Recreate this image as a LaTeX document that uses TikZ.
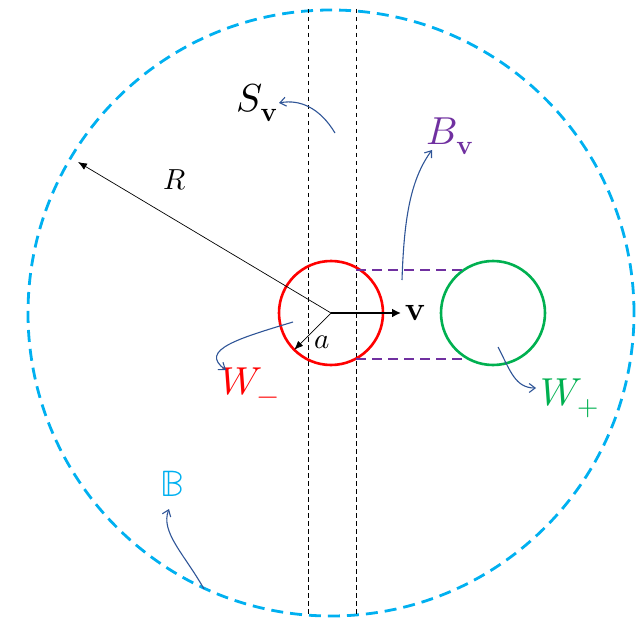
\documentclass[tikz,border=0pt]{standalone}
\usepackage{unicode-math}
\setmathfont{Latin Modern Math}
\usetikzlibrary{arrows.meta}
\definecolor{ballcyan}{RGB}{0,176,240}
\definecolor{wred}{RGB}{255,0,0}
\definecolor{wgreen}{RGB}{0,176,80}
\definecolor{bpurple}{RGB}{112,48,160}
\definecolor{ptrblue}{RGB}{47,85,151}
\tikzset{
  ptr/.style={ptrblue, line width=1.1pt, -{Straight Barb[length=6pt,width=9pt]}},
  slab/.style={black, line width=1pt, dash pattern=on 4.5pt off 3.5pt},
  band/.style={bpurple, line width=1.8pt, dash pattern=on 10pt off 6pt},
  body/.style={circle, line width=2.6pt, minimum size=104pt, inner sep=0pt},
  lbl/.style={inner sep=0pt},
}
\begin{document}
\begin{tikzpicture}[x=1pt,y=-1pt]
\useasboundingbox (0,0) rectangle (636,620);
% ball
\coordinate (O) at (331,313);
\node[draw=ballcyan, circle, line width=2.8pt, dash pattern=on 12pt off 7pt, minimum size=606pt, inner sep=0pt] (ball) at (O) {};
% slab
\coordinate (s1t) at (308,9);
\coordinate (s1b) at (308,617);
\coordinate (s2t) at (356,9);
\coordinate (s2b) at (356,617);
\draw[slab] (s1t) -- (s1b);
\draw[slab] (s2t) -- (s2b);
% bodies
\node[body, draw=wred] (wm) at (O) {};
\node[body, draw=wgreen] (wp) at (493,313) {};
% band B_v
\coordinate (bt1) at (356,270);
\coordinate (bt2) at (467,270);
\coordinate (bb1) at (356,359);
\coordinate (bb2) at (467,359);
\draw[band] (bt1) -- (bt2);
\draw[band] (bb1) -- (bb2);
% radius R
\coordinate (Rend) at (78,162);
\draw[line width=0.7pt, -{Latex[length=9pt,width=7pt]}] (O) -- (Rend);
\node[lbl] (Rl) at (175,180) {\fontsize{29}{31}\selectfont$R$};
% radius a
\coordinate (aend) at (294.2,349.8);
\draw[line width=0.7pt, -{Latex[length=9pt,width=7pt]}] (O) -- (aend);
\node[lbl] (al) at (322,342) {\fontsize{29}{31}\selectfont$a$};
% velocity
\node[lbl] (vl) at (415,313) {\fontsize{34}{36}\selectfont$\mathbf{v}$};
\coordinate (vend) at (401,313);
\draw[line width=2.6pt, -{Latex[length=9pt,width=9pt]}] (O) -- (vend);
% labels
\node[lbl] (Sl) at (257,103) {\fontsize{39}{41}\selectfont$S_{\mathbf{v}}$};
\node[lbl, text=bpurple] (Bl) at (450,136) {\fontsize{39}{41}\selectfont$B_{\mathbf{v}}$};
\node[lbl, text=wred] (Wml) at (250,386) {\fontsize{39}{41}\selectfont$W_{-}$};
\node[lbl, text=wgreen] (Wpl) at (570,398) {\fontsize{39}{41}\selectfont$W_{+}$};
\node[lbl, text=ballcyan] (Bbl) at (172,484) {\fontsize{37}{39}\selectfont$\mathbb{B}$};
% pointers
\coordinate (pS0) at (335,133);
\coordinate (pS1) at (279,103);
\draw[ptr] (pS0) .. controls (320,108) and (300,99) .. (pS1);
\coordinate (pB0) at (402,280);
\coordinate (pB1) at (432,150);
\draw[ptr] (pB0) .. controls (404,220) and (410,180) .. (pB1);
\coordinate (pW0) at (293,322);
\coordinate (pW1) at (226,370);
\draw[ptr] (pW0) .. controls (240,338) and (198,350) .. (pW1);
\coordinate (pP0) at (498,347);
\coordinate (pP1) at (536,388);
\draw[ptr] (pP0) .. controls (510,370) and (515,388) .. (pP1);
\coordinate (pb0) at (204,589);
\coordinate (pb1) at (169,509);
\draw[ptr] (pb0) .. controls (185,555) and (160,532) .. (pb1);
\end{tikzpicture}
\end{document}
